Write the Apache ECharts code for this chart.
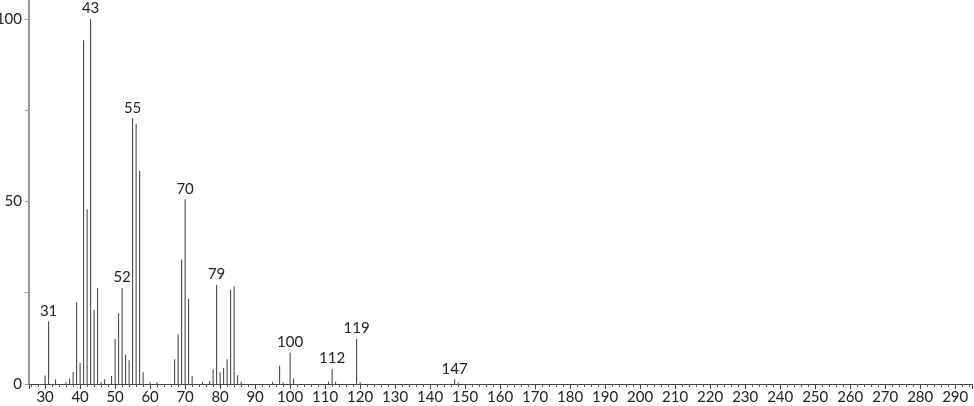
<!DOCTYPE html>
<html>
<head>
<meta charset="utf-8">
<script src="https://cdn.jsdelivr.net/npm/echarts@6/dist/echarts.min.js"></script>
<style>
html,body{margin:0;padding:0;background:#fff;}
#chart{width:974px;height:406px;}
</style>
</head>
<body>
<div id="chart"></div>
<script>
// m/z values
const mz = [30,31,33,36,37,38,39,40,41,42,43,44,45,46,47,49,50,51,52,53,54,55,56,57,58,60,62,67,68,69,70,71,72,75,77,78,79,80,81,82,83,84,85,86,95,97,98,100,101,111,112,113,119,120,147,148];
// relative intensity
const intensity = [2.3,17.1,1.3,0.5,1.5,3.3,22.3,5.8,94.2,47.9,100,20.3,26.3,0.5,1.3,2.2,12.3,19.4,26.3,8.0,6.5,72.8,71.3,58.4,3.2,0.5,0.5,6.8,13.6,34.1,50.6,23.3,2.2,0.6,0.8,4.0,27.1,3.2,4.4,6.8,25.8,26.8,2.4,0.6,0.6,5.0,0.5,8.6,1.6,0.6,4.1,0.6,12.3,0.5,1.3,0.5];
// peaks carrying a label
const labeledPeaks = [31,43,52,55,70,79,100,112,119,147];
// axis label values
const yTickLabels = [0,50,100];

const FONT = 'Lato';

const data = mz.map((m, i) => {
  const item = { value: [m, intensity[i]] };
  if (labeledPeaks.indexOf(m) >= 0) {
    item.label = { show: true };
  }
  return item;
});

const chart = echarts.init(document.getElementById('chart'));
chart.setOption({
  animation: false,
  grid: { left: 29, right: 2, top: 0, bottom: 22, containLabel: false, outerBoundsMode: 'none' },
  xAxis: {
    type: 'value',
    min: 25.4,
    max: 294.8,
    splitNumber: 27,
    axisLine: { show: true, onZero: false, lineStyle: { color: '#444', width: 1 } },
    axisTick: { show: true, length: 5, inside: false, lineStyle: { color: '#444' } },
    minorTick: { show: true, splitNumber: 5, length: 3, lineStyle: { color: '#555' } },
    splitLine: { show: false },
    axisLabel: {
      show: true,
      color: '#222',
      fontFamily: FONT,
      fontSize: 15,
      margin: 6,
      showMinLabel: false,
      showMaxLabel: false,
      formatter: v => (Math.abs(v % 10) < 1e-6 ? String(Math.round(v)) : '')
    }
  },
  yAxis: {
    type: 'value',
    min: 0,
    max: 105.2,
    interval: 25,
    axisLine: { show: true, lineStyle: { color: '#9a9a9a', width: 2 } },
    axisTick: { show: true, length: 4, lineStyle: { color: '#9a9a9a' } },
    splitLine: { show: false },
    axisLabel: {
      color: '#222',
      fontFamily: FONT,
      fontSize: 15,
      margin: 7,
      showMaxLabel: false,
      formatter: v => (yTickLabels.indexOf(Math.round(v)) >= 0 && Math.abs(v - Math.round(v)) < 1e-6 ? String(v) : '')
    }
  },
  series: [{
    type: 'bar',
    barWidth: 1,
    data: data,
    itemStyle: { color: '#3a3a3a' },
    label: {
      show: false,
      position: 'top',
      distance: 3,
      color: '#222',
      fontFamily: FONT,
      fontSize: 15,
      formatter: p => String(p.value[0])
    }
  }]
});
</script>
</body>
</html>
